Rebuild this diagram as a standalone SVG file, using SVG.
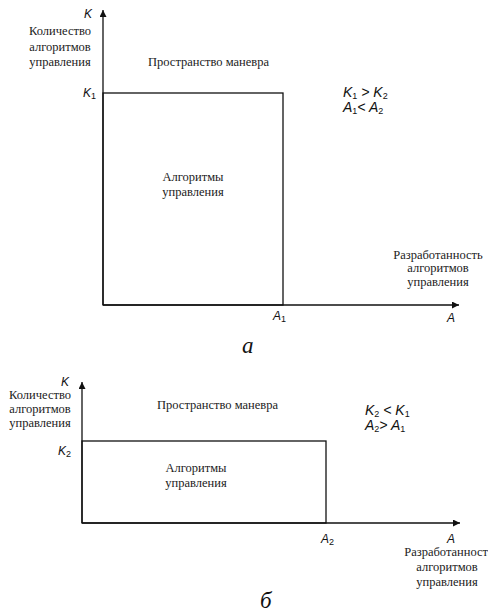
<svg xmlns="http://www.w3.org/2000/svg" width="488" height="613" viewBox="0 0 488 613">
<style>
.ln{stroke:#111;stroke-width:1.3;fill:none}
.sr{font-family:"Liberation Serif","Times New Roman",serif;font-size:12.5px;fill:#222}
.ss{font-family:"Liberation Sans",Arial,sans-serif;font-style:italic;fill:#111}
.sb{font-size:9px;font-style:normal}
.cap{font-family:"Liberation Serif","Times New Roman",serif;font-style:italic;font-size:23px;fill:#111}
</style>
<defs>
<marker id="ar" viewBox="0 0 10 10" refX="10" refY="5" markerWidth="7" markerHeight="7" markerUnits="userSpaceOnUse" orient="auto">
<path d="M0,0 L10,5 L0,10 z" fill="#111"/>
</marker>
</defs>
<g id="connectors">
<line class="ln" x1="103" y1="305" x2="103" y2="10" marker-end="url(#ar)"/>
<line class="ln" x1="103" y1="305" x2="459" y2="305" marker-end="url(#ar)"/>
<line class="ln" x1="82" y1="523" x2="82" y2="382" marker-end="url(#ar)"/>
<line class="ln" x1="82" y1="523" x2="460" y2="523" marker-end="url(#ar)"/>
</g>
<g id="diagram-a">
<g id="rect-a"><rect class="ln" x="103" y="93" width="180" height="212"/>
<text class="sr" text-anchor="middle" x="193" y="181">Алгоритмы</text>
<text class="sr" text-anchor="middle" x="193" y="196">управления</text></g>
<g id="ylabel-a">
<text class="sr" text-anchor="middle" x="60" y="35">Количество</text>
<text class="sr" text-anchor="middle" x="60" y="51">алгоритмов</text>
<text class="sr" text-anchor="middle" x="60" y="66">управления</text>
<text class="ss" font-size="12" x="84" y="18">K</text>
<text class="ss" font-size="12" x="83" y="97">K<tspan class="sb" dy="2">1</tspan></text></g>
<g id="space-a"><text class="sr" x="148" y="66">Пространство маневра</text></g>
<g id="rel-a">
<text class="ss" font-size="14" x="343" y="97">K<tspan class="sb" dy="2">1</tspan><tspan dy="-2"> &gt; K</tspan><tspan class="sb" dy="2">2</tspan></text>
<text class="ss" font-size="14" x="343" y="112">A<tspan class="sb" dy="2">1</tspan><tspan dy="-2">&lt; A</tspan><tspan class="sb" dy="2">2</tspan></text></g>
<g id="xlabel-a">
<text class="sr" text-anchor="middle" x="438" y="259">Разработанность</text>
<text class="sr" text-anchor="middle" x="438" y="272">алгоритмов</text>
<text class="sr" text-anchor="middle" x="438" y="286">управления</text>
<text class="ss" font-size="12" x="447" y="322">A</text>
<text class="ss" font-size="12" x="273" y="320">A<tspan class="sb" dy="2">1</tspan></text></g>
<text class="cap" x="242" y="353">а</text>
</g>
<g id="diagram-b">
<g id="rect-b"><rect class="ln" x="82" y="441" width="244" height="82"/>
<text class="sr" text-anchor="middle" x="196" y="472">Алгоритмы</text>
<text class="sr" text-anchor="middle" x="196" y="487">управления</text></g>
<g id="ylabel-b">
<text class="sr" text-anchor="middle" x="40" y="399">Количество</text>
<text class="sr" text-anchor="middle" x="40" y="413">алгоритмов</text>
<text class="sr" text-anchor="middle" x="40" y="427">управления</text>
<text class="ss" font-size="12" x="61" y="386">K</text>
<text class="ss" font-size="12" x="58" y="455">K<tspan class="sb" dy="2">2</tspan></text></g>
<g id="space-b"><text class="sr" x="157" y="409">Пространство маневра</text></g>
<g id="rel-b">
<text class="ss" font-size="14" x="365" y="415">K<tspan class="sb" dy="2">2</tspan><tspan dy="-2"> &lt; K</tspan><tspan class="sb" dy="2">1</tspan></text>
<text class="ss" font-size="14" x="365" y="430">A<tspan class="sb" dy="2">2</tspan><tspan dy="-2">&gt; A</tspan><tspan class="sb" dy="2">1</tspan></text></g>
<g id="xlabel-b">
<text class="sr" text-anchor="middle" x="449" y="556">Разработанность</text>
<text class="sr" text-anchor="middle" x="447" y="571">алгоритмов</text>
<text class="sr" text-anchor="middle" x="447" y="586">управления</text>
<text class="ss" font-size="12" x="447" y="543">A</text>
<text class="ss" font-size="12" x="321" y="543">A<tspan class="sb" dy="2">2</tspan></text></g>
<text class="cap" x="260" y="608">б</text>
</g>
</svg>
